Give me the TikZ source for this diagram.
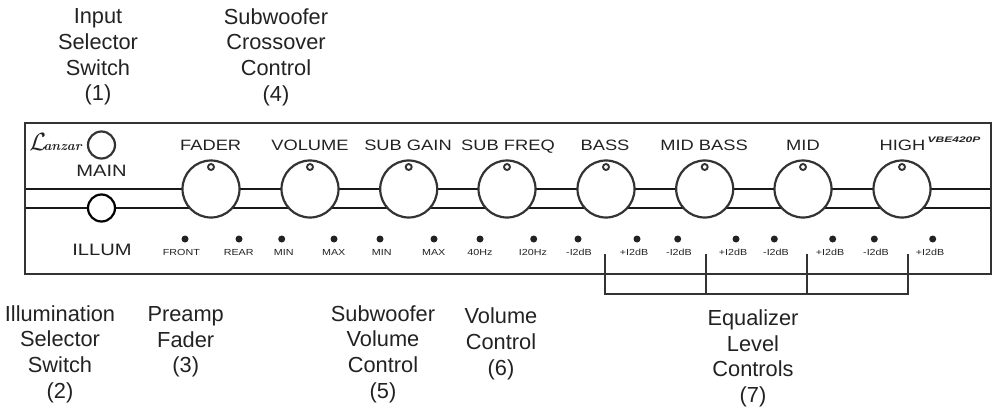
\documentclass[tikz,border=0pt]{standalone}
\usepackage{fontspec}
\setmainfont{Liberation Sans}
\newfontfamily\panelfont[FakeStretch=1.22]{Liberation Sans}
\newfontfamily\modelfont[FakeStretch=1.5]{Liberation Sans}
\newfontfamily\logofont{Latin Modern Roman}
\definecolor{ink}{HTML}{222222}
\definecolor{edge}{HTML}{333333}
\tikzset{
 x=1pt,y=-1pt,
 callout/.style={align=center,font=\fontsize{21.8}{25.7}\selectfont,text=ink,inner sep=0pt},
 knob/.style={circle,draw=edge,line width=2.2pt,fill=white,minimum size=57pt,inner sep=0pt},
 pip/.style={circle,draw=edge,line width=1.9pt,fill=white,minimum size=6pt,inner sep=0pt},
 dot/.style={circle,fill=ink,minimum size=7pt,inner sep=0pt},
 bigl/.style={font=\panelfont\fontsize{15}{15}\selectfont,text=ink,inner sep=0pt,anchor=base},
 sidel/.style={font=\panelfont\fontsize{16.5}{16.5}\selectfont,text=ink,inner sep=0pt,anchor=base},
 smalll/.style={font=\panelfont\fontsize{8.8}{9}\selectfont,text=ink,inner sep=0pt,anchor=base},
 rail/.style={draw=black!90,line width=2.1pt},
 bracket/.style={draw=edge,line width=2pt},
}
\begin{document}
\begin{tikzpicture}
\useasboundingbox (0,0) rectangle (992,409);
\coordinate (railLT) at (24,189); \coordinate (railRT) at (990,189);
\coordinate (railLB) at (24,208); \coordinate (railRB) at (990,208);
\draw[rail] (railLT) -- (railRT);
\draw[rail] (railLB) -- (railRB);
\node[draw=edge,line width=2pt,minimum width=966pt,minimum height=151pt,inner sep=0pt,anchor=north west] (panel) at (24,122) {};

\foreach \n/\x/\lx/\t in {a/211/210.7/FADER,b/310/310/VOLUME,c/408.7/408/SUB GAIN,d/507/508/SUB FREQ,e/606/605/BASS,f/704.7/704/MID BASS,g/803/803/MID,h/902/902.5/HIGH}{
  \node[knob] (knob\n) at (\x,189) {};
  \node[pip] (pip\n) at (\x,167) {};
  \node[bigl] (lab\n) at (\lx,150) {\t};
}
\node[circle,draw=edge,line width=2.2pt,minimum size=27pt,inner sep=0pt] (main) at (101.5,145) {};
\node[circle,draw=black,line width=2.2pt,fill=white,minimum size=27pt,inner sep=0pt] (illum) at (101.5,208) {};
\node[sidel] (mainl) at (101.5,176.7) {MAIN};
\node[sidel] (illuml) at (102,255) {ILLUM};
\node[inner sep=0pt,text=ink,anchor=base] (lanzar) at (55.5,150) {\fontsize{23}{23}\selectfont$\mathcal{L}$\kern-3pt\logofont\itshape\bfseries\fontsize{13.5}{13.5}\selectfont anzar};
\node[font=\modelfont\fontsize{8}{8}\selectfont\bfseries\itshape,text=ink,inner sep=0pt] (model) at (954,139.5) {VBE420P};

\foreach \n/\x/\dx/\t in {d1/185/181.4/FRONT,d2/239/238.7/REAR,d3/281.7/283.7/MIN,d4/334/333.7/MAX,d5/380/381.7/MIN,d6/434/433.7/MAX,d7/480/480/40Hz,d8/533.7/533/I20Hz,d9/578/579/-I2dB,d10/637/634/+I2dB,d11/677.7/679/-I2dB,d12/736/733/+I2dB,d13/774.3/776/-I2dB,d14/832.7/830/+I2dB,d15/874.3/876/-I2dB,d16/932.7/930/+I2dB}{
  \node[dot] (\n) at (\x,239) {};
  \node[smalll] (t\n) at (\dx,255) {\t};
}

\coordinate (b1) at (605.3,254); \coordinate (b2) at (706,254); \coordinate (b3) at (807.3,254); \coordinate (b4) at (908.3,254);
\coordinate (b1b) at (605.3,294); \coordinate (b2b) at (706,294); \coordinate (b3b) at (807.3,294); \coordinate (b4b) at (908.3,294);
\draw[bracket] (b1) -- (b1b) -- (b2b) -- (b3b) -- (b4b) -- (b4);
\draw[bracket] (b2) -- (b2b);
\draw[bracket] (b3) -- (b3b);

\node[callout] (c1) at (98,57) {Input\\Selector\\Switch\\(1)};
\node[callout] (c4) at (276,57) {Subwoofer\\Crossover\\Control\\(4)};
\node[callout] (c2) at (60,354) {Illumination\\Selector\\Switch\\(2)};
\node[callout] (c3) at (185.7,342) {Preamp\\Fader\\(3)};
\node[callout] (c5) at (383,354) {Subwoofer\\Volume\\Control\\(5)};
\node[callout] (c6) at (501,344) {Volume\\Control\\(6)};
\node[callout] (c7) at (753,358.5) {Equalizer\\Level\\Controls\\(7)};
\end{tikzpicture}
\end{document}
